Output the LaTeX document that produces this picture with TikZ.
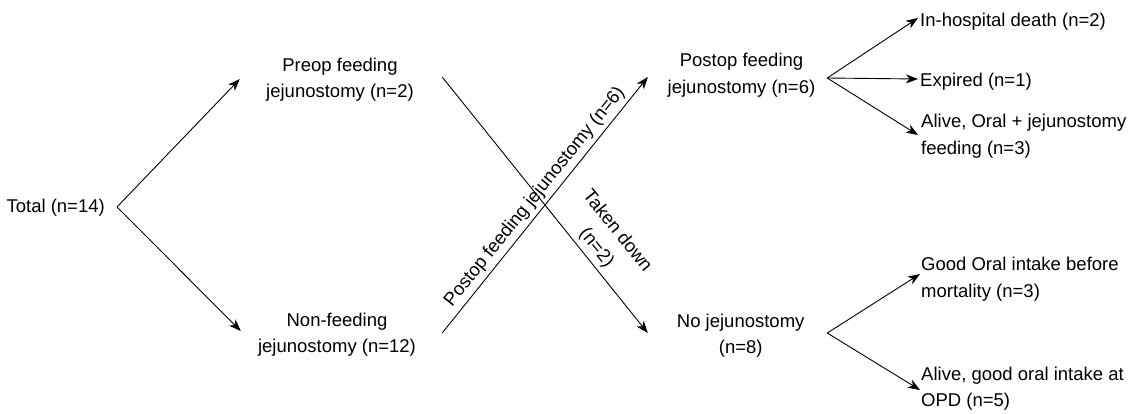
\documentclass[tikz,border=0pt]{standalone}
\usepackage{fontspec}
\setmainfont{Liberation Sans}
\usetikzlibrary{arrows.meta}
\tikzset{
  lbl/.style={inner sep=0pt, font=\fontsize{18.5}{26.5}\selectfont},
  arr/.style={line width=0.9pt, -{Stealth[length=12pt,width=9pt,inset=3.5pt]}},
  tag/.style={font=\fontsize{18.5}{26.5}\selectfont, inner sep=4pt}
}
\begin{document}
\begin{tikzpicture}[x=1pt,y=-1pt]
\useasboundingbox (0,0) rectangle (1132,413);

% first level
\node[lbl, anchor=base east] (total) at (105,212.5) {Total (n=14)};
\node[lbl, anchor=north, align=center] (preop) at (340,57.6) {Preop feeding\\jejunostomy (n=2)};
\node[lbl, anchor=north, align=center] (nonfeed) at (337,312.6) {Non-feeding\\jejunostomy (n=12)};

% second level
\node[lbl, anchor=north, align=center] (postop) at (741.5,53.3) {Postop feeding\\jejunostomy (n=6)};
\node[lbl, anchor=north, align=center] (nojej) at (740.7,313.6) {No jejunostomy\\(n=8)};

% outcomes
\node[lbl, anchor=base west] (death) at (920,26.7) {In-hospital death (n=2)};
\node[lbl, anchor=base west] (expired) at (920,86) {Expired (n=1)};
\node[lbl, anchor=north west, align=left] (alive1) at (921,114.3) {Alive, Oral + jejunostomy\\feeding (n=3)};
\node[lbl, anchor=north west, align=left] (good) at (921,257.3) {Good Oral intake before\\mortality (n=3)};
\node[lbl, anchor=north west, align=left] (alive2) at (921,366.6) {Alive, good oral intake at\\OPD (n=5)};

% hubs of the fans
\coordinate (h0) at ([xshift=12pt,yshift=5.5pt]total.base east);
\coordinate (h1) at ([xshift=11.7pt,yshift=-24.7pt]postop.north east);
\coordinate (h2) at ([xshift=22.6pt,yshift=-19.4pt]nojej.north east);

% split of the whole group
\draw[arr] (h0) -- ([xshift=-26.2pt,yshift=-21.4pt]preop.north west);
\draw[arr] (h0) -- ([xshift=-17.1pt,yshift=-18.4pt]nonfeed.north west);

% crossing transitions
\draw[arr] ([xshift=28.2pt,yshift=-19.4pt]preop.north east) -- ([xshift=-29pt,yshift=-19.4pt]nojej.north west)
  node[tag, pos=0.7, above, sloped, align=center] {Taken down\\(n=2)};
\draw[arr] ([xshift=26.1pt,yshift=-20.4pt]nonfeed.north east) -- ([xshift=-19.7pt,yshift=-23.7pt]postop.north west)
  node[tag, midway, above, sloped] {Postop feeding jejunostomy (n=6)};

% outcomes after postop feeding jejunostomy
\draw[arr] (h1) -- ([xshift=-2pt,yshift=8.7pt]death.base west);
\draw[arr] (h1) -- ([xshift=-2pt,yshift=7pt]expired.base west);
\draw[arr] (h1) -- ([xshift=-3pt,yshift=-20.7pt]alive1.north west);

% outcomes without jejunostomy
\draw[arr] (h2) -- ([xshift=-1pt,yshift=-16.7pt]good.north west);
\draw[arr] (h2) -- ([xshift=-1pt,yshift=-23.4pt]alive2.north west);
\end{tikzpicture}
\end{document}
